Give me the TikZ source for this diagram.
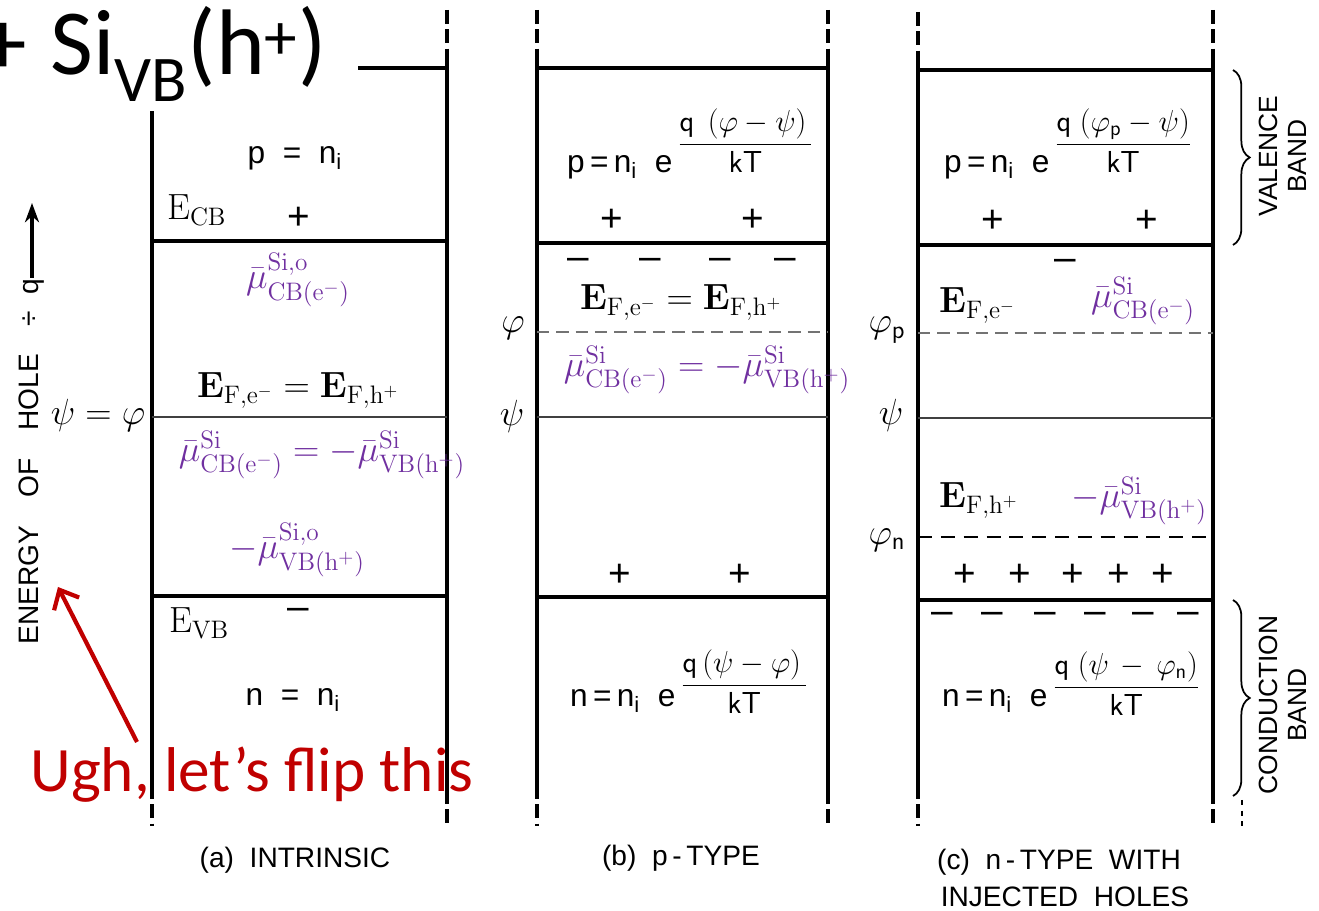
\documentclass[tikz,border=0pt]{standalone}
\usepackage{amsmath}
\usepackage[no-math]{fontspec}
\newfontfamily\lettering{Liberation Sans}
\newfontfamily\slidefont{Carlito}
\usetikzlibrary{arrows.meta,decorations.pathreplacing}
\definecolor{chempurple}{HTML}{7030A0}
\definecolor{slidered}{HTML}{C00000}
\newcommand{\bandexp}[2][12pt]{\raisebox{#1}{$\displaystyle\frac{#2}{\mathsf{kT}}$}}
\begin{document}
\begin{tikzpicture}[
  x=0.02cm, y=-0.02cm,
  bandedge/.style = {line width=1.8pt},
  edgedash/.style = {line width=1.8pt, dash pattern=on 8pt off 3pt},
  bandline/.style = {line width=2.2pt},
  levelline/.style = {line width=1pt, black!75},
  quasiline/.style = {line width=0.9pt, black!55, dash pattern=on 7pt off 4pt},
  injline/.style = {line width=1.6pt, dash pattern=on 8pt off 5pt},
  lettr/.style = {font=\lettering\fontsize{18}{21}\selectfont},
  capt/.style = {font=\lettering\fontsize{16}{19}\selectfont},
  charge/.style = {font=\lettering\fontsize{22}{24}\selectfont, inner sep=0pt},
  mathlbl/.style = {font=\fontsize{20}{24}\selectfont},
  chemlbl/.style = {text=chempurple, font=\fontsize{21}{25}\selectfont},
  potlbl/.style = {font=\fontsize{20}{23}\selectfont},
  bandtxt/.style = {font=\lettering\fontsize{15}{16.5}\selectfont, align=center},
  bandbrace/.style = {line width=1pt, decorate, decoration={brace, amplitude=9.5pt}},
  axarrow/.style = {line width=2pt, -{Stealth[length=11pt, width=8pt]}},
  redarrow/.style = {slidered, line width=2.4pt, -{Straight Barb[length=9pt, width=16pt]}},
  slidetxt/.style = {font=\slidefont\fontsize{53}{58}\selectfont, anchor=base, inner sep=0pt}
]
\useasboundingbox (0,0) rectangle (1319,911);

% panel edges
\foreach \rx in {447, 828, 1213} {
  \draw[edgedash] (\rx,10) -- (\rx,50);
  \draw[bandedge] (\rx,50) -- (\rx,790);
  \draw[edgedash] (\rx,790) -- (\rx,828);
}
\foreach \lx in {152, 537, 918} {
  \draw[bandedge] (\lx,60) -- (\lx,785);
  \draw[edgedash] (\lx,785) -- (\lx,826);
}
\draw[edgedash] (537,10) -- (537,60);
\draw[edgedash] (918,12) -- (918,60);
\fill[white] (140,0) rectangle (165,111);

% (a) intrinsic
\draw[bandline] (358,68) -- (447,68);
\draw[bandline] (152,241) -- (447,241);
\draw[levelline] (152,417) -- (447,417);
\draw[bandline] (152,596) -- (447,596);
\node[lettr, anchor=base] (pinta) at (295,164) {p\ \ =\ \ n\textsubscript{i}};
\node[mathlbl, anchor=base west] (ecb) at (161,220) {$\mathrm{E}_{\mathrm{CB}}$};
\node[charge] (pla) at (299,218) {+};
\node[chemlbl] (mucba) at (298,280) {$\bar{\mu}^{\mathrm{Si,o}}_{\mathrm{CB(e^-)}}$};
\node[mathlbl, anchor=base] (efa) at (298,398) {$\mathbf{E}_{\mathrm{F,e^-}} = \mathbf{E}_{\mathrm{F,h^+}}$};
\node[chemlbl] (mueqa) at (322,455) {$\bar{\mu}^{\mathrm{Si}}_{\mathrm{CB(e^-)}} = -\bar{\mu}^{\mathrm{Si}}_{\mathrm{VB(h^+)}}$};
\node[chemlbl] (muvba) at (297,550) {$-\bar{\mu}^{\mathrm{Si,o}}_{\mathrm{VB(h^+)}}$};
\node[mathlbl, anchor=base west] (evb) at (163,633) {$\mathrm{E}_{\mathrm{VB}}$};
\node[charge] (mia) at (298,614) {–};
\node[lettr, anchor=base] (nint) at (293,706) {n\ \ =\ \ n\textsubscript{i}};
\node[capt] (capa) at (295,860) {(a)\ \ INTRINSIC};

% (b) p-type
\draw[bandline] (537,68) -- (828,68);
\draw[bandline] (537,243) -- (828,243);
\draw[quasiline] (537,332) -- (828,332);
\draw[levelline] (537,417) -- (828,417);
\draw[bandline] (537,597) -- (828,597);
\node[lettr, anchor=base west] (pexpb) at (561,173)
  {p\,=\,n\textsubscript{i}\ \ e\,\bandexp{\mathsf{q}\;\,(\varphi-\psi)\,}};
\foreach \cx [count=\k] in {612, 753}
  \node[charge] (plb\k) at (\cx,220) {+};
\foreach \cx [count=\k] in {578, 650, 720, 785}
  \node[charge] (mib\k) at (\cx,264) {–};
\node[mathlbl, anchor=base] (efb) at (681,310) {$\mathbf{E}_{\mathrm{F,e^-}} = \mathbf{E}_{\mathrm{F,h^+}}$};
\node[chemlbl] (mueqb) at (707,370) {$\bar{\mu}^{\mathrm{Si}}_{\mathrm{CB(e^-)}} = -\bar{\mu}^{\mathrm{Si}}_{\mathrm{VB(h^+)}}$};
\node[potlbl] (phib) at (513,328) {$\varphi$};
\node[potlbl] (psib) at (512,416) {$\psi$};
\foreach \cx [count=\k] in {620, 740}
  \node[charge] (plbb\k) at (\cx,575) {+};
\node[lettr, anchor=base west] (nexpb) at (564,707)
  {n\,=\,n\textsubscript{i}\ \ e\,\bandexp[8pt]{\mathsf{q}\,(\psi-\varphi)\,}};
\node[capt] (capb) at (681,858) {(b)\ \ p\,-\,TYPE};

% (c) n-type with injected holes
\draw[bandline] (918,70) -- (1213,70);
\draw[bandline] (918,245) -- (1213,245);
\draw[quasiline] (918,333) -- (1213,333);
\draw[levelline] (918,418) -- (1213,418);
\draw[injline] (918,537) -- (1213,537);
\draw[bandline] (918,600) -- (1213,600);
\node[lettr, anchor=base west] (pexpc) at (938,173)
  {p\,=\,n\textsubscript{i}\ \ e\,\bandexp{\mathsf{q}\;(\varphi_{\mathsf{p}}-\psi)}};
\foreach \cx [count=\k] in {993, 1147}
  \node[charge] (plc\k) at (\cx,221) {+};
\node[charge] (mic) at (1065,265) {–};
\node[mathlbl, anchor=base west] (efec) at (933,313) {$\mathbf{E}_{\mathrm{F,e^-}}$};
\node[chemlbl] (mucbc) at (1143,301) {$\bar{\mu}^{\mathrm{Si}}_{\mathrm{CB(e^-)}}$};
\node[potlbl] (phipc) at (887,330) {$\varphi_{\mathsf{p}}$};
\node[potlbl] (psic) at (891,415) {$\psi$};
\node[potlbl] (phinc) at (887,540) {$\varphi_{\mathsf{n}}$};
\node[mathlbl, anchor=base west] (efhc) at (933,508) {$\mathbf{E}_{\mathrm{F,h^+}}$};
\node[chemlbl] (muvbc) at (1139,501) {$-\bar{\mu}^{\mathrm{Si}}_{\mathrm{VB(h^+)}}$};
\foreach \cx [count=\k] in {965, 1020, 1073, 1119, 1163}
  \node[charge] (plcc\k) at (\cx,575) {+};
\foreach \cx [count=\k] in {942, 992, 1045, 1095, 1143, 1188}
  \node[charge] (micc\k) at (\cx,618) {–};
\node[lettr, anchor=base west] (nexpc) at (936,707)
  {n\,=\,n\textsubscript{i}\ \ e\,\bandexp[7pt]{\mathsf{q}\;(\psi\,-\,\varphi_{\mathsf{n}})}};
\node[capt] (capc) at (1059,862) {(c)\ \ n\,-\,TYPE\ \ WITH};
\node[capt] (capcc) at (1065,897) {INJECTED\ \ HOLES};

% band braces
\draw[bandbrace] (1233,70) -- (1233,245);
\node[bandtxt, rotate=90] (valtxt) at (1283,156) {VALENCE\\BAND};
\draw[bandbrace] (1233,600) -- (1233,796);
\draw[line width=1pt, dashed] (1242,800) -- (1242,830);
\node[bandtxt, rotate=90] (contxt) at (1283,705) {CONDUCTION\\BAND};

% energy axis
\node[capt, rotate=90] (axtxt) at (32,462) {ENERGY\quad OF\quad HOLE\quad ÷\ \ q};
\coordinate (axtail) at (32,278);
\coordinate (axtip) at (32,203);
\draw[axarrow] (axtail) -- (axtip);
\node[potlbl] (psiphia) at (98,415) {$\psi = \varphi$};

% slide overlay
\node[slidetxt, anchor=base east] (plusa) at (27,75) {+};
\node[slidetxt, anchor=base west] (sivb) at (50,75) {Si\textsubscript{VB}(h\textsuperscript{+})};
\node[font=\slidefont\fontsize{36}{42}\selectfont, text=slidered, anchor=base] (ugh) at (252,792)
  {Ugh, let’s flip this};
\coordinate (ughtail) at (137,742);
\coordinate (ughtip) at (58,587);
\draw[redarrow] (ughtail) -- (ughtip);
\end{tikzpicture}
\end{document}
